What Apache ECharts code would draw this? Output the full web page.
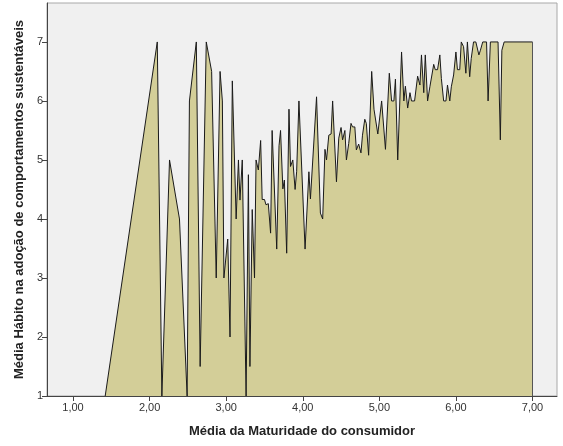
<!DOCTYPE html>
<html>
<head>
<meta charset="utf-8">
<script src="https://cdn.jsdelivr.net/npm/echarts@6/dist/echarts.min.js"></script>
<style>
  html, body { margin: 0; padding: 0; background: #ffffff; }
  #chart { width: 563px; height: 446px; }
</style>
</head>
<body>
<div id="chart"></div>
<script>
// Média da Maturidade do consumidor (x) and the mean habit score at each value (y)
const maturidade = [
  1.42, 2.10, 2.16, 2.26, 2.39, 2.49, 2.52, 2.61, 2.63, 2.66,
  2.74, 2.81, 2.87, 2.92, 2.95, 2.97, 3.02, 3.05, 3.08, 3.13,
  3.16, 3.18, 3.21, 3.26, 3.29, 3.31, 3.34, 3.37, 3.39, 3.42,
  3.45, 3.47, 3.50, 3.52, 3.55, 3.58, 3.60, 3.66, 3.69, 3.71,
  3.74, 3.76, 3.79, 3.82, 3.84, 3.87, 3.90, 3.92, 3.95, 4.03,
  4.08, 4.10, 4.18, 4.23, 4.26, 4.29, 4.31, 4.34, 4.37, 4.39,
  4.44, 4.47, 4.50, 4.52, 4.55, 4.57, 4.60, 4.63, 4.65, 4.68,
  4.70, 4.73, 4.76, 4.78, 4.81, 4.83, 4.86, 4.90, 4.93, 4.95,
  4.98, 5.03, 5.08, 5.13, 5.16, 5.19, 5.21, 5.24, 5.29, 5.32,
  5.34, 5.37, 5.40, 5.42, 5.46, 5.50, 5.53, 5.55, 5.58, 5.60,
  5.63, 5.66, 5.71, 5.73, 5.76, 5.79, 5.81, 5.84, 5.87, 5.89,
  5.92, 5.94, 5.97, 6.00, 6.02, 6.05, 6.07, 6.10, 6.13, 6.15,
  6.18, 6.20, 6.23, 6.26, 6.30, 6.32, 6.35, 6.40, 6.42, 6.45,
  6.55, 6.58, 6.60, 6.63, 7.00
];
const habito = [
  1.00, 7.00, 1.00, 5.00, 4.00, 1.00, 6.00, 7.00, 7.00, 1.50,
  7.00, 6.50, 3.00, 6.50, 6.00, 3.00, 3.66, 2.00, 6.34, 4.00,
  5.00, 4.32, 5.00, 1.00, 4.75, 1.50, 4.16, 3.00, 5.00, 4.83,
  5.33, 4.33, 4.33, 4.24, 4.26, 3.76, 5.50, 3.49, 5.24, 5.50,
  4.51, 4.66, 3.42, 5.86, 4.89, 5.00, 4.50, 4.80, 6.00, 3.49,
  4.80, 4.34, 6.07, 4.10, 4.00, 5.18, 5.00, 5.42, 5.44, 6.00,
  4.63, 5.37, 5.55, 5.34, 5.50, 5.00, 5.28, 5.62, 5.56, 5.56,
  5.17, 5.27, 5.12, 5.42, 5.69, 5.62, 5.08, 6.50, 5.86, 5.88,
  5.44, 6.00, 5.18, 6.47, 6.00, 6.00, 6.37, 5.00, 6.83, 6.00,
  6.25, 5.88, 6.14, 6.00, 6.00, 6.42, 6.27, 6.78, 6.14, 6.78,
  6.00, 6.24, 6.62, 6.53, 6.53, 6.78, 6.38, 6.00, 6.00, 6.27,
  6.00, 6.24, 6.44, 6.83, 6.53, 6.53, 7.00, 6.92, 6.47, 7.00,
  6.41, 6.72, 7.00, 7.00, 6.78, 6.86, 7.00, 7.00, 6.00, 7.00,
  7.00, 5.34, 6.86, 7.00, 7.00
];
const xTicks = [1, 2, 3, 4, 5, 6, 7];
const yTicks = [1, 2, 3, 4, 5, 6, 7];

const points = maturidade.map((m, i) => [m, habito[i]]);
const lastX = maturidade[maturidade.length - 1];
const lastY = habito[habito.length - 1];

const FONT = '"Liberation Sans", Arial, sans-serif';
const chart = echarts.init(document.getElementById('chart'), null, { renderer: 'canvas' });

chart.setOption({
  animation: false,
  backgroundColor: '#ffffff',
  grid: {
    left: 47, right: 6, top: 3, bottom: 50,
    show: true,
    backgroundColor: '#f0f0f0',
    borderColor: '#a8a8a8',
    borderWidth: 1
  },
  xAxis: {
    type: 'value',
    min: 0.66,
    max: 7.32,
    name: 'Média da Maturidade do consumidor',
    nameLocation: 'middle',
    nameGap: 29,
    nameTextStyle: { fontFamily: FONT, fontSize: 13, fontWeight: 'bold', color: '#222222' },
    axisLine: { show: true, onZero: false, lineStyle: { color: '#444444', width: 1 } },
    axisTick: { show: true, length: 5, customValues: xTicks, lineStyle: { color: '#444444' } },
    axisLabel: {
      customValues: xTicks,
      margin: 6,
      fontFamily: FONT, fontSize: 11, color: '#333333',
      formatter: v => v.toFixed(2).replace('.', ',')
    },
    splitLine: { show: false }
  },
  yAxis: {
    type: 'value',
    min: 1,
    max: 7.66,
    name: 'Média Hábito na adoção de comportamentos sustentáveis',
    nameLocation: 'middle',
    nameGap: 21,
    nameTextStyle: { fontFamily: FONT, fontSize: 13, fontWeight: 'bold', color: '#222222' },
    axisLine: { show: true, onZero: false, lineStyle: { color: '#444444', width: 1 } },
    axisTick: { show: true, length: 5, customValues: yTicks, lineStyle: { color: '#444444' } },
    axisLabel: {
      customValues: yTicks,
      margin: 4,
      fontFamily: FONT, fontSize: 11, color: '#333333'
    },
    splitLine: { show: false }
  },
  series: [{
    type: 'line',
    data: points,
    symbol: 'none',
    smooth: false,
    lineStyle: { color: '#1a1a1a', width: 1 },
    areaStyle: { color: '#d3ce98', opacity: 1, origin: 'start' },
    markLine: {
      silent: true,
      symbol: 'none',
      label: { show: false },
      lineStyle: { color: '#555555', width: 1, type: 'solid' },
      data: [[{ coord: [lastX, 1] }, { coord: [lastX, lastY] }]]
    }
  }]
});
</script>
</body>
</html>
